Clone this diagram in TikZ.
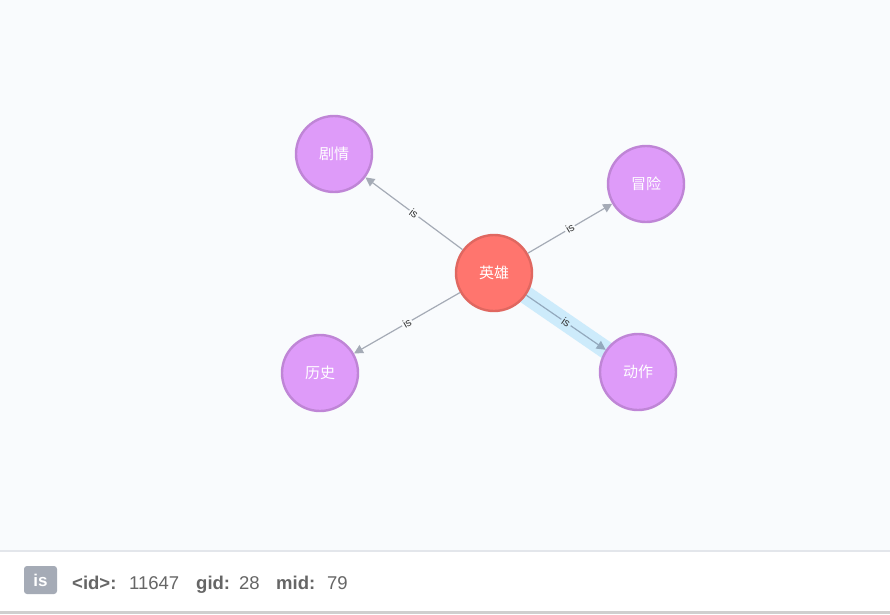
\documentclass[tikz,border=0pt]{standalone}
\usepackage{fontspec}
\setmainfont{Liberation Sans}
\newfontfamily\cjk{Noto Sans CJK SC}
\usetikzlibrary{arrows.meta}
\definecolor{bgc}{HTML}{F9FBFD}
\definecolor{redfill}{HTML}{FF756E}
\definecolor{redline}{HTML}{E06760}
\definecolor{purfill}{HTML}{DE9BF9}
\definecolor{purline}{HTML}{BF85D6}
\definecolor{edgec}{HTML}{A5ABB6}
\definecolor{edgehi}{HTML}{93A9BD}
\definecolor{hil}{HTML}{CDEBFB}
\definecolor{txtg}{HTML}{666666}
\definecolor{sepc}{HTML}{E3E6EB}
\definecolor{botc}{HTML}{CFCFCF}
\begin{document}
\begin{tikzpicture}[x=1pt,y=-1pt,
  ent/.style={circle,minimum size=76pt,inner sep=0pt,line width=2.4pt,text=white,font=\cjk\fontsize{15}{15}\selectfont},
  hero/.style={ent,fill=redfill,draw=redline},
  genre/.style={ent,fill=purfill,draw=purline},
  rel/.style={draw=edgec,line width=1.2pt,-{Triangle[length=9pt,width=9pt]}},
  rlab/.style={fill=bgc,inner sep=1.5pt,sloped,font=\fontsize{11}{11}\selectfont,text=black!80},
  info/.style={anchor=base west,inner sep=0pt,text=txtg,font=\fontsize{18.5}{18.5}\selectfont}]
\useasboundingbox (0,0) rectangle (890,614);
\fill[bgc] (0,0) rectangle (890,551);
\fill[white] (0,552) rectangle (890,611);
\fill[sepc] (0,550) rectangle (890,552);
\fill[botc] (0,611) rectangle (890,614);
% highlight band
\coordinate (hA) at (494,273);
\coordinate (hB) at (638,372);
\draw[hil,line width=18pt] (hA) -- (hB);
\node[hero] (hero) at (494,273) {英雄};
\node[genre] (juqing) at (334,154) {剧情};
\node[genre] (maoxian) at (646,184) {冒险};
\node[genre] (lishi) at (320,373) {历史};
\node[genre] (dongzuo) at (638,372) {动作};
\draw[rel] (hero) -- node[rlab] {is} (juqing);
\draw[rel] (hero) -- node[rlab] {is} (maoxian);
\draw[rel] (hero) -- node[rlab] {is} (lishi);
\draw[rel,draw=edgehi] (hero) -- node[rlab,fill=hil] {is} (dongzuo);
% info bar
\node[fill=edgec,rounded corners=3pt,minimum width=33pt,minimum height=28pt,inner sep=0pt,text=white,font=\bfseries\fontsize{17}{17}\selectfont] (badge) at (40.5,580) {is};
\node[info,font=\bfseries\fontsize{18.5}{18.5}\selectfont] (k1) at (72,589) {<id>:};
\node[info] (v1) at (129,589) {11647};
\node[info,font=\bfseries\fontsize{18.5}{18.5}\selectfont] (k2) at (196,589) {gid:};
\node[info] (v2) at (239,589) {28};
\node[info,font=\bfseries\fontsize{18.5}{18.5}\selectfont] (k3) at (276,589) {mid:};
\node[info] (v3) at (327,589) {79};
\end{tikzpicture}
\end{document}
